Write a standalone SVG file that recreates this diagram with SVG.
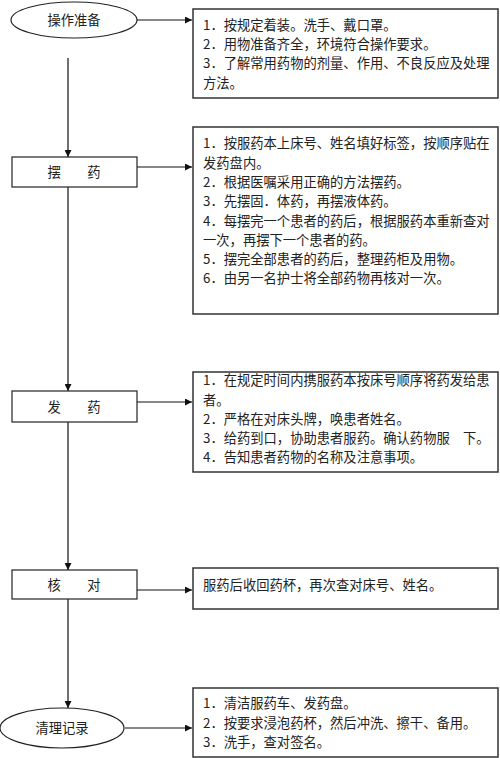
<svg xmlns="http://www.w3.org/2000/svg" width="500" height="758" viewBox="0 0 500 758">
<style>
.shape{fill:#fff;stroke:#222;stroke-width:1.2}
.box{fill:#fff;stroke:#333;stroke-width:1.5}
.t{font-family:"Noto Sans CJK SC","Noto Sans CJK TC",sans-serif;font-size:13.3px;fill:#222}
.c{text-anchor:middle}
.ln{fill:none;stroke:#111;stroke-width:1.2}
</style>
<defs>
<marker id="ah" viewBox="0 0 10 10" refX="10" refY="5" markerWidth="8" markerHeight="7" markerUnits="userSpaceOnUse" orient="auto">
<path d="M0,0 L10,5 L0,10 z" fill="#111"/>
</marker>
</defs>
<rect width="500" height="758" fill="#fff"/>

<g id="connectors">
<line class="ln" x1="137" y1="20" x2="192" y2="20" marker-end="url(#ah)"/>
<line class="ln" x1="68" y1="58" x2="68" y2="157" marker-end="url(#ah)"/>
<line class="ln" x1="137" y1="167" x2="192" y2="167" marker-end="url(#ah)"/>
<line class="ln" x1="68" y1="187" x2="68" y2="391" marker-end="url(#ah)"/>
<line class="ln" x1="137" y1="402" x2="192" y2="402" marker-end="url(#ah)"/>
<line class="ln" x1="68" y1="422" x2="68" y2="570" marker-end="url(#ah)"/>
<line class="ln" x1="137" y1="590" x2="192" y2="590" marker-end="url(#ah)"/>
<line class="ln" x1="68" y1="599" x2="68" y2="708" marker-end="url(#ah)"/>
<line class="ln" x1="125" y1="728" x2="192" y2="728" marker-end="url(#ah)"/>
</g>

<g id="n-prep">
<ellipse class="shape" cx="74" cy="20" rx="63" ry="18"/>
<text class="t c" x="74" y="25">操作准备</text>
</g>
<g id="d-prep">
<rect class="box" x="193" y="9" width="305" height="89"/>
<text class="t" x="203" y="30">1．按规定着装。洗手、戴口罩。</text>
<text class="t" x="203" y="49">2．用物准备齐全，环境符合操作要求。</text>
<text class="t" x="203" y="68">3．了解常用药物的剂量、作用、不良反应及处理</text>
<text class="t" x="203" y="88">方法。</text>
</g>

<g id="n-arrange">
<rect class="shape" x="12" y="157" width="125" height="30"/>
<text class="t c" x="74" y="177">摆　　药</text>
</g>
<g id="d-arrange">
<rect class="box" x="193" y="127" width="305" height="187"/>
<text class="t" x="203" y="148">1．按服药本上床号、姓名填好标签，按顺序贴在</text>
<text class="t" x="203" y="167.5">发药盘内。</text>
<text class="t" x="203" y="187">2．根据医嘱采用正确的方法摆药。</text>
<text class="t" x="203" y="206">3．先摆固．体药，再摆液体药。</text>
<text class="t" x="203" y="225.5">4．每摆完一个患者的药后，根据服药本重新查对</text>
<text class="t" x="203" y="245">一次，再摆下一个患者的药。</text>
<text class="t" x="203" y="264">5．摆完全部患者的药后，整理药柜及用物。</text>
<text class="t" x="203" y="283">6．由另一名护士将全部药物再核对一次。</text>
</g>

<g id="n-dispense">
<rect class="shape" x="12" y="391" width="125" height="31"/>
<text class="t c" x="74" y="412">发　　药</text>
</g>
<g id="d-dispense">
<rect class="box" x="193" y="372" width="305" height="100"/>
<text class="t" x="203" y="385">1．在规定时间内携服药本按床号顺序将药发给患</text>
<text class="t" x="203" y="405">者。</text>
<text class="t" x="203" y="424">2．严格在对床头牌，唤患者姓名。</text>
<text class="t" x="203" y="443">3．给药到口，协助患者服药。确认药物服　下。</text>
<text class="t" x="203" y="462">4．告知患者药物的名称及注意事项。</text>
</g>

<g id="n-check">
<rect class="shape" x="12" y="570" width="125" height="29"/>
<text class="t c" x="74" y="590">核　　对</text>
</g>
<g id="d-check">
<rect class="box" x="193" y="568" width="305" height="41"/>
<text class="t" x="203" y="590">服药后收回药杯，再次查对床号、姓名。</text>
</g>

<g id="n-clean">
<ellipse class="shape" cx="62" cy="728" rx="62" ry="20"/>
<text class="t c" x="62" y="733">清理记录</text>
</g>
<g id="d-clean">
<rect class="box" x="193" y="688" width="305" height="69"/>
<text class="t" x="203" y="708">1．清洁服药车、发药盘。</text>
<text class="t" x="203" y="728">2．按要求浸泡药杯，然后冲洗、擦干、备用。</text>
<text class="t" x="203" y="747">3．洗手，查对签名。</text>
</g>
</svg>
